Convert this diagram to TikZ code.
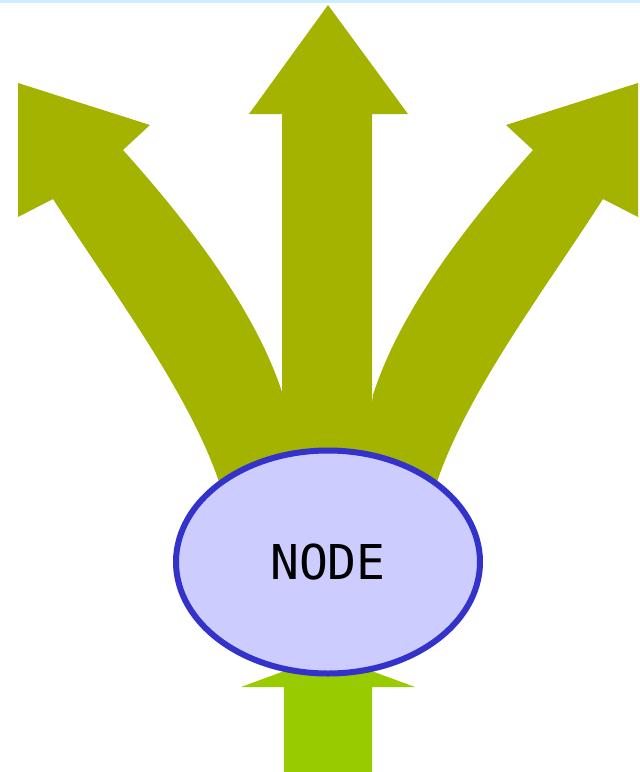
\documentclass[tikz,border=0pt]{standalone}
\usepackage{fontspec}
\newfontfamily\nodefont{DejaVu Sans Mono}
\usetikzlibrary{shapes.geometric}
\definecolor{olivearrow}{RGB}{164,178,0}
\definecolor{limearrow}{RGB}{153,204,0}
\definecolor{nodefill}{RGB}{204,204,255}
\definecolor{nodeline}{RGB}{51,51,204}
\definecolor{topline}{RGB}{204,238,255}
\tikzset{
  outarrow/.style={fill=olivearrow},
  inarrow/.style={fill=limearrow},
  bignode/.style={ellipse, draw=nodeline, fill=nodefill, line width=6pt,
    minimum width=304pt, minimum height=223pt, inner sep=0pt,
    font=\nodefont\fontsize{48}{48}\selectfont}
}
\begin{document}
\begin{tikzpicture}[x=1pt,y=-1pt]
\useasboundingbox (0,0) rectangle (640,772);
\fill[topline] (0,0) rectangle (640,3);
% incoming arrow (bottom)
\fill[inarrow] (284,772) -- (284,687) -- (241,687) -- (328,655) -- (415,687) -- (372,687) -- (372,772) -- cycle;
% central outgoing arrow
\fill[outarrow] (282,530) -- (282,114) -- (249,114) -- (328,5) -- (408,114) -- (372,114) -- (372,530) -- cycle;
% left outgoing arrow
\fill[outarrow] (18,83) -- (150,125) -- (123,150)
  .. controls (183,217) and (255,307) .. (283,395)
  -- (300,530) -- (232,530) -- (226,505)
  .. controls (201,408) and (118,300) .. (53,199)
  -- (18,217) -- cycle;
% right outgoing arrow (mirror)
\begin{scope}[xshift=656pt, xscale=-1]
\fill[outarrow] (18,83) -- (150,125) -- (123,150)
  .. controls (183,217) and (255,307) .. (283,395)
  -- (300,530) -- (232,530) -- (226,505)
  .. controls (201,408) and (118,300) .. (53,199)
  -- (18,217) -- cycle;
\end{scope}
\node[bignode] (node) at (328,562) {NODE};
\end{tikzpicture}
\end{document}
